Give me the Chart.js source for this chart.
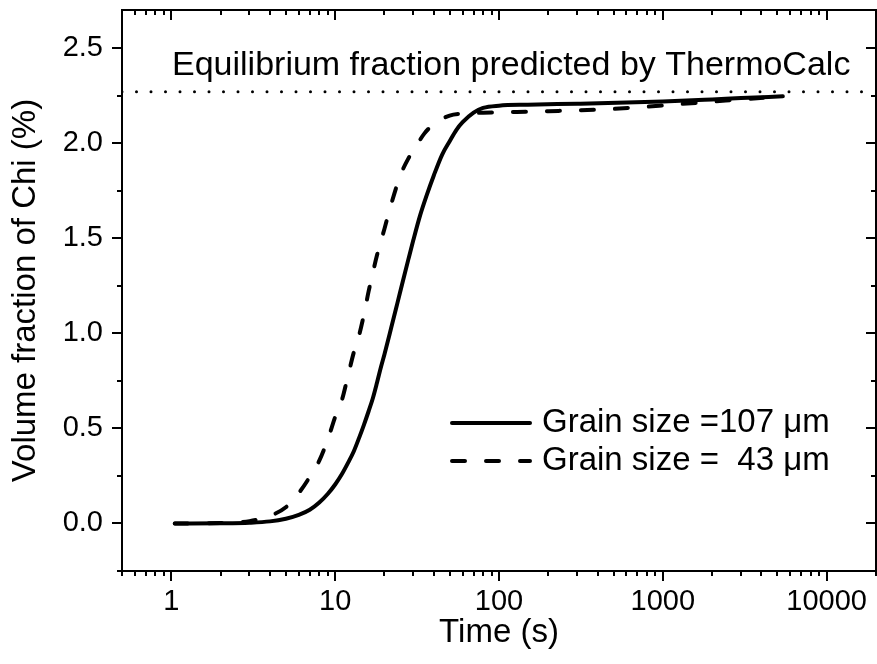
<!DOCTYPE html>
<html>
<head>
<meta charset="utf-8">
<script src="https://cdn.jsdelivr.net/npm/chart.js@4/dist/chart.umd.min.js"></script>
<style>
  html, body { margin: 0; padding: 0; background: #fff; }
  canvas { display: block; }
</style>
</head>
<body>
<canvas id="c" width="877" height="664"></canvas>
<script>
// ---- Data ----
const timeSolid = [1.05, 2, 3, 4, 5, 6, 7, 8, 9, 10, 11, 12, 13, 14, 15, 16, 17, 18, 19, 20, 22, 24, 26, 28, 30, 33, 36, 40, 45, 50, 55, 60, 70, 80, 100, 150, 300, 600, 1000, 2000, 3000, 5400];
const fracSolid = [0, 0.001, 0.004, 0.011, 0.025, 0.045, 0.072, 0.11, 0.155, 0.205, 0.26, 0.32, 0.38, 0.45, 0.52, 0.59, 0.66, 0.74, 0.82, 0.89, 1.03, 1.16, 1.28, 1.39, 1.49, 1.62, 1.72, 1.83, 1.94, 2.01, 2.07, 2.11, 2.16, 2.185, 2.197, 2.202, 2.207, 2.213, 2.219, 2.23, 2.237, 2.246];

const timeDashed = [1.05, 2, 3, 4, 5, 6, 7, 8, 9, 10, 11, 12, 13, 14, 15, 16, 17, 18, 20, 22, 25, 28, 30, 35, 40, 50, 60, 80, 100, 200, 400, 700, 1000, 1300, 2000, 3000, 5400];
const fracDashed = [0, 0.002, 0.012, 0.04, 0.085, 0.16, 0.245, 0.33, 0.44, 0.56, 0.65, 0.78, 0.9, 0.99, 1.1, 1.22, 1.32, 1.41, 1.55, 1.68, 1.83, 1.92, 1.96, 2.05, 2.1, 2.145, 2.155, 2.16, 2.162, 2.168, 2.176, 2.188, 2.198, 2.206, 2.218, 2.23, 2.246];

const equilibriumFraction = 2.27;
const xRange = [0.5, 20000];
const yRange = [-0.25, 2.7];
const xTickLabels = [1, 10, 100, 1000, 10000];
const yTickLabels = [0.0, 0.5, 1.0, 1.5, 2.0, 2.5];
const seriesLabels = ['Grain size =107 \u03bcm', 'Grain size =  43 \u03bcm'];
const annotationText = 'Equilibrium fraction predicted by ThermoCalc';
const xTitle = 'Time (s)';
const yTitle = 'Volume fraction of Chi (%)';

const toPoints = (xs, ys) => xs.map((x, i) => ({ x: x, y: ys[i] }));

const FONT = '"Liberation Sans", Arial, Helvetica, sans-serif';
const DASH = [13, 21];

// ---- Frame, ticks, annotation and legend ----
const framePlugin = {
  id: 'framePlugin',
  afterDatasetsDraw(chart) {
    const { ctx, chartArea: a, scales } = chart;
    const xs = scales.x, ys = scales.y;
    ctx.save();
    ctx.strokeStyle = '#000';
    ctx.lineWidth = 2;
    ctx.lineCap = 'butt';
    ctx.strokeRect(a.left, a.top, a.right - a.left, a.bottom - a.top);
    const MAJ = 10, MIN = 5;
    ctx.beginPath();
    // log x ticks
    for (let e = -1; e <= 4; e++) {
      for (let m = 1; m <= 9; m++) {
        const v = m * Math.pow(10, e);
        if (v < xRange[0] - 1e-9 || v > xRange[1] + 1e-9) continue;
        const px = Math.round(xs.getPixelForValue(v));
        const len = m === 1 ? MAJ : MIN;
        ctx.moveTo(px, a.bottom); ctx.lineTo(px, a.bottom + len);
        ctx.moveTo(px, a.top); ctx.lineTo(px, a.top + len);
      }
    }
    // linear y ticks
    for (let k = 0; k <= 11; k++) {
      const v = -0.25 + k * 0.25;
      if (v > yRange[1]) continue;
      const py = Math.round(ys.getPixelForValue(v));
      const major = Math.abs(v / 0.5 - Math.round(v / 0.5)) < 1e-6;
      const len = major ? MAJ : MIN;
      ctx.moveTo(a.left, py); ctx.lineTo(a.left - len, py);
      ctx.moveTo(a.right, py); ctx.lineTo(a.right - len, py);
    }
    ctx.stroke();

    // annotation
    ctx.fillStyle = '#000';
    ctx.font = '34px ' + FONT;
    ctx.textBaseline = 'alphabetic';
    ctx.textAlign = 'left';
    ctx.fillText(annotationText, a.left + 50, 75);

    // legend
    const ds = chart.data.datasets;
    const rows = [ds[2], ds[1]];
    const lx0 = 452, lx1 = 530, tx = 542;
    const rowY = [423, 461];
    ctx.font = '33px ' + FONT;
    ctx.textBaseline = 'middle';
    rows.forEach((d, i) => {
      ctx.save();
      ctx.lineWidth = d.borderWidth;
      ctx.lineCap = d.borderCapStyle || 'butt';
      ctx.setLineDash(d.borderDash || []);
      ctx.beginPath();
      ctx.moveTo(lx0, rowY[i]);
      ctx.lineTo(lx1, rowY[i]);
      ctx.stroke();
      ctx.restore();
      ctx.fillText(d.label, tx, rowY[i]);
    });
    ctx.restore();
  }
};

new Chart(document.getElementById('c'), {
  type: 'line',
  data: {
    datasets: [
      {
        label: 'Equilibrium',
        data: toPoints(xRange, [equilibriumFraction, equilibriumFraction]),
        borderColor: '#000',
        borderWidth: 3,
        borderDash: [0, 14.5],
        borderCapStyle: 'round',
        pointRadius: 0
      },
      {
        label: seriesLabels[1],
        data: toPoints(timeDashed, fracDashed),
        borderColor: '#000',
        borderWidth: 4,
        borderDash: DASH,
        borderCapStyle: 'round',
        cubicInterpolationMode: 'monotone',
        pointRadius: 0
      },
      {
        label: seriesLabels[0],
        data: toPoints(timeSolid, fracSolid),
        borderColor: '#000',
        borderWidth: 4,
        borderCapStyle: 'round',
        cubicInterpolationMode: 'monotone',
        pointRadius: 0
      }
    ]
  },
  options: {
    responsive: false,
    animation: false,
    layout: { padding: { top: 10, right: 1, left: 0, bottom: 0 } },
    plugins: { legend: { display: false }, tooltip: { enabled: false } },
    scales: {
      x: {
        type: 'logarithmic',
        min: xRange[0],
        max: xRange[1],
        afterBuildTicks: (s) => { s.ticks = xTickLabels.map(v => ({ value: v })); },
        afterFit: (s) => { s.height = 93; s.paddingLeft = 0; s.paddingRight = 0; },
        grid: { display: false, drawTicks: false },
        border: { display: false },
        ticks: {
          padding: 14,
          color: '#000',
          font: { family: FONT, size: 29 },
          maxRotation: 0,
          autoSkip: false,
          callback: (v) => String(v)
        },
        title: {
          display: true,
          text: xTitle,
          color: '#000',
          font: { family: FONT, size: 33 },
          padding: { top: 0, bottom: 11 }
        }
      },
      y: {
        type: 'linear',
        min: yRange[0],
        max: yRange[1],
        afterBuildTicks: (s) => { s.ticks = yTickLabels.map(v => ({ value: v })); },
        afterFit: (s) => { s.width = 122; s.paddingTop = 0; s.paddingBottom = 0; },
        grid: { display: false, drawTicks: false },
        border: { display: false },
        ticks: {
          padding: 19,
          color: '#000',
          font: { family: FONT, size: 29 },
          autoSkip: false,
          callback: (v) => Number(v).toFixed(1)
        },
        title: {
          display: true,
          text: yTitle,
          color: '#000',
          font: { family: FONT, size: 33 },
          padding: { top: 6, bottom: 0 }
        }
      }
    }
  },
  plugins: [framePlugin]
});
</script>
</body>
</html>
